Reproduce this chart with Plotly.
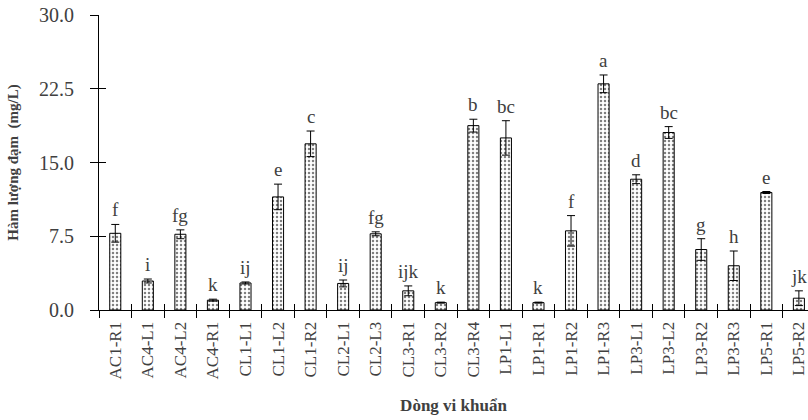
import plotly.graph_objects as go

categories = ["AC1-R1", "AC4-L1", "AC4-L2", "AC4-R1", "CL1-L1", "CL1-L2", "CL1-R2",
              "CL2-L1", "CL2-L3", "CL3-R1", "CL3-R2", "CL3-R4", "LP1-L1", "LP1-R1",
              "LP1-R2", "LP1-R3", "LP3-L1", "LP3-L2", "LP3-R2", "LP3-R3", "LP5-R1", "LP5-R2"]
values = [7.8, 2.95, 7.7, 1.0, 2.75, 11.5, 16.9, 2.7, 7.75, 1.95, 0.75, 18.75, 17.5, 0.75,
          8.05, 23.0, 13.3, 18.05, 6.15, 4.5, 11.95, 1.2]
errors = [0.9, 0.2, 0.45, 0.1, 0.1, 1.3, 1.3, 0.35, 0.2, 0.5, 0.05, 0.65, 1.75, 0.05,
          1.55, 0.9, 0.45, 0.6, 1.1, 1.5, 0.1, 0.75]
letters = ["f", "i", "fg", "k", "ij", "e", "c", "ij", "fg", "ijk", "k", "b", "bc", "k",
           "f", "a", "d", "bc", "g", "h", "e", "jk"]

FONT = "Liberation Serif"
TXT = "#404040"

fig = go.Figure()
fig.add_trace(go.Bar(
    x=categories, y=values,
    marker=dict(color="white", line=dict(color="black", width=1),
                pattern=dict(shape=".", fgcolor="black", bgcolor="white", size=4, solidity=0.3)),
    error_y=dict(type="data", array=errors, visible=True, color="black", thickness=1, width=4),
    width=0.34,
    hoverinfo="skip",
))
# invisible trace for the overlay axes (inside half of the crossing ticks)
fig.add_trace(go.Scatter(x=categories, y=values, mode="markers", marker=dict(opacity=0),
                         xaxis="x2", yaxis="y2", hoverinfo="skip", showlegend=False))

for c, v, e, t in zip(categories, values, errors, letters):
    fig.add_annotation(x=c, y=v + e, text=t, showarrow=False, yanchor="bottom", yshift=2,
                       font=dict(family=FONT, size=19, color=TXT))

xr = [-0.5, 21.28]
yr = [0, 30]
fig.update_layout(
    width=808, height=420,
    margin=dict(l=99, r=0, t=15, b=110, autoexpand=False),
    paper_bgcolor="white", plot_bgcolor="white",
    showlegend=False,
    font=dict(family=FONT, color=TXT),
    xaxis=dict(type="category", range=xr, showline=True, linecolor="black", linewidth=1,
               ticks="outside", ticklen=7, tickcolor="black", tickson="boundaries",
               tickangle=-90, tickfont=dict(family=FONT, size=17, color=TXT),
               ticklabelstandoff=4,
               showgrid=False, zeroline=False, automargin=False,
               title=dict(text="<b>Dòng vi khuẩn</b>", font=dict(family=FONT, size=17, color=TXT),
                          standoff=20)),
    yaxis=dict(range=yr, dtick=7.5, tick0=0, tickformat=".1f", showline=True, linecolor="black",
               linewidth=1, ticks="outside", ticklen=8, tickcolor="black", automargin=False,
               ticklabelstandoff=12,
               tickfont=dict(family=FONT, size=20, color=TXT), showgrid=False, zeroline=False,
               title=dict(text="<b>Hàm lượng đạm  (mg/L)</b>",
                          font=dict(family=FONT, size=15, color=TXT), standoff=16)),
    xaxis2=dict(type="category", overlaying="x", range=xr, ticks="inside", ticklen=6,
                tickcolor="black", tickson="boundaries", showticklabels=False, showgrid=False,
                zeroline=False, showline=False, anchor="y2", automargin=False),
    yaxis2=dict(overlaying="y", range=yr, dtick=7.5, tick0=0, ticks="inside", ticklen=7,
                tickcolor="black", showticklabels=False, showgrid=False, zeroline=False,
                showline=False, anchor="x2", automargin=False),
)

fig.write_html("out.html", config={"displayModeBar": False},
               post_script="document.body.style.margin='0';")
